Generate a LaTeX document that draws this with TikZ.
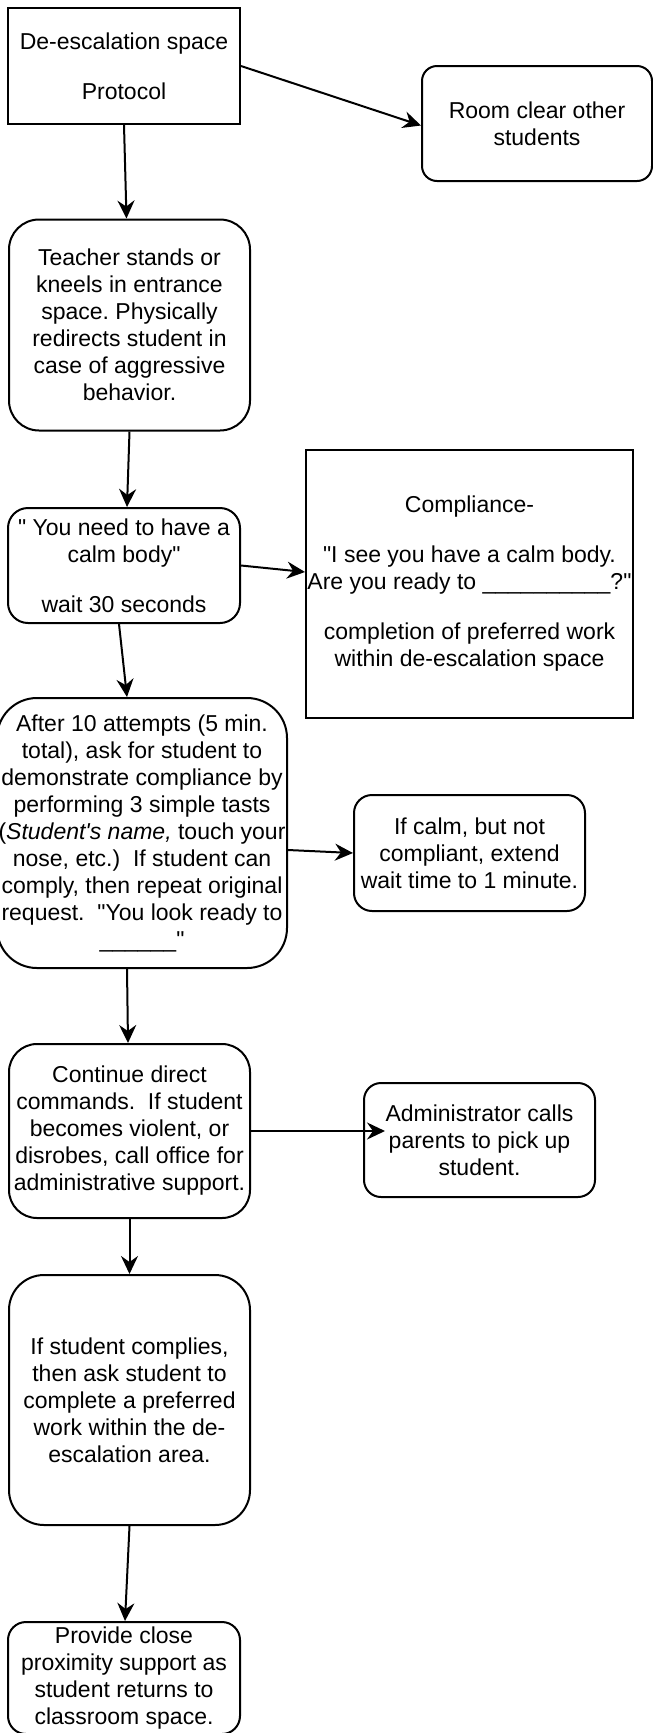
\documentclass[tikz,border=0pt]{standalone}
\usepackage{fontspec}
\setmainfont{Liberation Sans}[Ligatures=TeXOff]
\usetikzlibrary{arrows.meta}
\frenchspacing
\begin{document}
\begin{tikzpicture}[x=1pt,y=-1pt,
  every node/.style={font=\fontsize{23}{27}\selectfont, align=center, inner sep=0pt},
  sqbox/.style={draw, line width=2pt},
  rbox/.style={draw, line width=2pt, rounded corners=#1},
  arr/.style={line width=2pt, -{Stealth[length=18pt,width=17pt,inset=6pt]}}
]
\useasboundingbox (0,0) rectangle (653,1733);

\node[sqbox, minimum width=232pt, minimum height=116pt] (b1) at (124,66)
  {De-escalation space\\[23pt]Protocol};
\node[rbox=15pt, minimum width=230pt, minimum height=115pt] (room) at (537,123.5)
  {Room clear other\\students};
\node[rbox=30pt, minimum width=241pt, minimum height=211pt] (teacher) at (129.5,325)
  {Teacher stands or\\kneels in entrance\\space. Physically\\redirects student in\\case of aggressive\\behavior.};
\node[rbox=20pt, minimum width=232pt, minimum height=115pt] (calm) at (124,565.5)
  {" You need to have a\\calm body"\\[23pt]wait 30 seconds};
\node[sqbox, minimum width=327pt, minimum height=268pt] (comp) at (469.5,584)
  {Compliance-\\[23pt]"I see you have a calm body.\\Are you ready to \_\_\_\_\_\_\_\_\_\_?"\\[23pt]completion of preferred work\\within de-escalation space};
\node[rbox=40pt, minimum width=290pt, minimum height=270pt] (after) at (142,833)
  {After 10 attempts (5 min.\\total), ask for student to\\demonstrate compliance by\\performing 3 simple tasts\\(\textit{Student's name,} touch your\\nose, etc.)\ \ If student can\\comply, then repeat original\\request.\ \ "You look ready to\\\_\_\_\_\_\_"};
\node[rbox=18pt, minimum width=231pt, minimum height=116pt] (ifcalm) at (469.5,853)
  {If calm, but not\\compliant, extend\\wait time to 1 minute.};
\node[rbox=28pt, minimum width=241pt, minimum height=174pt] (cont) at (129.5,1131)
  {Continue direct\\commands.\ \ If student\\becomes violent, or\\disrobes, call office for\\administrative support.};
\node[rbox=17pt, minimum width=231pt, minimum height=114pt] (admin) at (479.5,1140)
  {Administrator calls\\parents to pick up\\student.};
\node[rbox=35pt, minimum width=241pt, minimum height=250pt] (comply) at (129.5,1400)
  {If student complies,\\then ask student to\\complete a preferred\\work within the de-\\escalation area.};
\node[rbox=18pt, minimum width=232pt, minimum height=112pt] (prov) at (124,1678)
  {Provide close\\proximity support as\\student returns to\\classroom space.};

\coordinate (adminIn) at (385,1131);

\draw[arr] (b1.south) -- ([xshift=-3pt]teacher.north);
\draw[arr] (b1.east) -- ([yshift=-2pt]room.west);
\draw[arr] (teacher.south) -- ([xshift=3pt]calm.north);
\draw[arr] (calm.east) -- ([yshift=12pt]comp.west);
\draw[arr] ([xshift=-5pt]calm.south) -- ([xshift=-15pt]after.north);
\draw[arr] ([yshift=-17pt]after.east) -- (ifcalm.west);
\draw[arr] ([xshift=-15pt]after.south) -- ([xshift=-1.5pt]cont.north);
\draw[arr] (cont.east) -- (adminIn);
\draw[arr] (cont.south) -- (comply.north);
\draw[arr] (comply.south) -- ([xshift=1pt]prov.north);
\end{tikzpicture}
\end{document}
